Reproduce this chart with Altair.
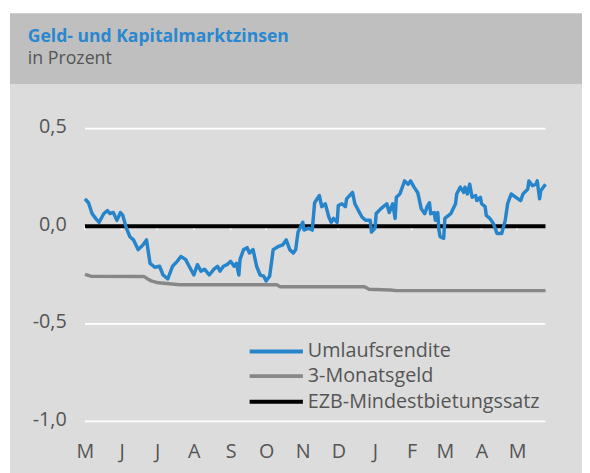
import altair as alt
import pandas as pd

# ---------------- data ----------------
start = pd.Timestamp("2016-05-01")

umlauf_days = [0, 3, 6, 9, 12, 16, 19, 21, 24, 27, 30, 32, 35, 38, 41, 45, 49, 52, 55, 59,
               63, 66, 70, 74, 78, 81, 85, 88, 92, 95, 98, 101, 105, 109, 112, 114, 117, 120, 123, 126,
               128, 130, 131, 134, 137, 139, 142, 145, 148, 151, 153, 156, 159, 163, 167, 170, 173, 176, 178, 180,
               184, 185, 189, 192, 194, 198, 200, 203, 206, 208, 210, 213, 214, 217, 220, 221, 226, 228, 231, 234,
               237, 241, 242, 245, 246, 250, 255, 257, 260, 262, 263, 266, 270, 273, 275, 278, 281, 282, 284, 287,
               289, 291, 292, 295, 296, 298, 299, 300, 303, 304, 309, 313, 314, 317, 320, 321, 323, 325, 327, 330,
               331, 334, 335, 338, 339, 342, 345, 348, 352, 355, 357, 360, 364, 368, 370, 374, 375, 378, 381, 382,
               384, 385, 389]
umlauf_vals = [0.14, 0.12, 0.065, 0.04, 0.02, 0.065, 0.08, 0.065, 0.07, 0.03, 0.07, 0.055, -0.01, -0.054, -0.07, -0.12, -0.096, -0.07, -0.19, -0.21,
               -0.205, -0.25, -0.27, -0.205, -0.18, -0.155, -0.17, -0.205, -0.25, -0.197, -0.23, -0.22, -0.25, -0.22, -0.205, -0.23, -0.205, -0.197, -0.18, -0.205,
               -0.19, -0.25, -0.17, -0.12, -0.11, -0.137, -0.12, -0.205, -0.25, -0.256, -0.28, -0.256, -0.12, -0.105, -0.096, -0.07, -0.12, -0.137, -0.12, -0.03,
               0.02, -0.02, -0.01, -0.02, 0.12, 0.157, 0.1, 0.115, 0.047, 0.02, 0.04, 0.02, 0.106, 0.115, 0.1, 0.14, 0.173, 0.115, 0.08, 0.047,
               0.03, 0.03, -0.03, -0.01, 0.065, 0.09, 0.115, 0.07, 0.115, 0.04, 0.148, 0.165, 0.232, 0.215, 0.232, 0.2, 0.173, 0.148, 0.09, 0.064,
               0.1, 0.12, 0.064, 0.07, 0.03, 0.07, -0.02, -0.054, -0.062, 0.04, 0.064, 0.115, 0.165, 0.2, 0.173, 0.2, 0.165, 0.215, 0.148, 0.157,
               0.131, 0.148, 0.115, 0.1, 0.055, 0.04, 0.014, -0.037, -0.037, 0.03, 0.115, 0.165, 0.148, 0.131, 0.165, 0.19, 0.232, 0.207, 0.215, 0.232,
               0.14, 0.182, 0.215]

geld_days = [0, 5, 50, 53, 56, 62, 80, 162, 165, 236, 240, 258, 263, 389]
geld_vals = [-0.247, -0.256, -0.258, -0.27, -0.28, -0.29, -0.30, -0.30, -0.31, -0.31, -0.323, -0.327, -0.33, -0.33]

ezb_days = [0, 389]
ezb_vals = [0.0, 0.0]

series_names = ["Umlaufsrendite", "3-Monatsgeld", "EZB-Mindestbietungssatz"]
series_colors = ["#2584ca", "#878787", "#000000"]

month_letters = ["J", "F", "M", "A", "M", "J", "J", "A", "S", "O", "N", "D"]
month_ticks = [str(d.date()) for d in pd.date_range("2016-05-01", "2017-05-01", freq="MS")]
y_ticks = [-1.0, -0.5, 0.0, 0.5]

title_text = "Geld- und Kapitalmarktzinsen"
subtitle_text = "in Prozent"

# ---------------- tables ----------------
def frame(days, vals, name):
    return pd.DataFrame({"date": [str((start + pd.Timedelta(days=d)).date()) for d in days],
                         "value": vals, "series": name})

df_u = frame(umlauf_days, umlauf_vals, series_names[0])
df_g = frame(geld_days, geld_vals, series_names[1])
df_e = frame(ezb_days, ezb_vals, series_names[2])
df_ticks = pd.DataFrame({"date": month_ticks, "value": 0.0, "y1": -0.02})
df_grid = pd.DataFrame({"value": y_ticks})

FONT = "Open Sans"
TXT = "#555555"
FS = 20

x_scale = alt.Scale(domain=["2016-05-01", "2017-05-25"])
y_scale = alt.Scale(domain=[-1.0, 0.5], nice=False, zero=False)

letters_js = "[" + ",".join("'%s'" % m for m in month_letters) + "]"

x_axis = alt.Axis(values=[alt.DateTime(year=int(m[:4]), month=int(m[5:7]), date=1) for m in month_ticks],
                  labelExpr=letters_js + "[month(datum.value)]",
                  domain=False, ticks=False, grid=False, title=None, zindex=1,
                  labelFontSize=FS, labelColor=TXT, labelFont=FONT, labelPadding=21,
                  labelAlign="center", labelFlush=False, labelOverlap=False)
y_axis = alt.Axis(values=y_ticks,
                  labelExpr="replace(replace(format(datum.value, '.1f'), '.', ','), '\u2212', '-')",
                  domain=False, ticks=False, grid=False, zindex=1, labelOverlap=False,
                  title=None, labelFontSize=FS, labelColor=TXT, labelFont=FONT, labelPadding=19,
                  labelOffset=-2)

X = lambda f="date": alt.X(f + ":T", scale=x_scale, axis=x_axis)
Y = lambda f="value": alt.Y(f + ":Q", scale=y_scale, axis=y_axis)

one = pd.DataFrame({"a": [0]})

# backgrounds (plot-relative pixel positions)
bg_light = alt.Chart(one).mark_rect(color="#dcdcdc").encode(
    x=alt.value(-76), x2=alt.value(510), y=alt.value(-45), y2=alt.value(360))
bg_dark = alt.Chart(one).mark_rect(color="#bfbfbf").encode(
    x=alt.value(-76), x2=alt.value(510), y=alt.value(-117), y2=alt.value(-45))
t1 = alt.Chart(pd.DataFrame({"t": [title_text]})).mark_text(
    align="left", baseline="alphabetic", font=FONT, fontSize=17.8, fontWeight="bold", color="#2a88d0"
).encode(x=alt.value(-58), y=alt.value(-88), text="t:N")
t2 = alt.Chart(pd.DataFrame({"t": [subtitle_text]})).mark_text(
    align="left", baseline="alphabetic", font=FONT, fontSize=18, color=TXT
).encode(x=alt.value(-58), y=alt.value(-65), text="t:N")

grid = alt.Chart(df_grid).mark_rule(color="white", strokeWidth=1.8).encode(y=Y())

ticks = alt.Chart(df_ticks).mark_rule(color="white", strokeWidth=2).encode(
    x=X(), y=Y(), y2="y1:Q")

def line(df, color, w):
    return alt.Chart(df).mark_line(color=color, strokeWidth=w, strokeJoin="round").encode(
        x=X(), y=Y())

l_e = line(df_e, series_colors[2], 4)
l_g = line(df_g, series_colors[1], 3.5)
l_u = line(df_u, series_colors[0], 3.5)

legend_layers = []
row_y = [226, 251, 277]
for i, (name, col) in enumerate(zip(series_names, series_colors)):
    legend_layers.append(alt.Chart(one).mark_rule(strokeWidth=4, color=col).encode(
        x=alt.value(167), x2=alt.value(221), y=alt.value(row_y[i])))
    legend_layers.append(alt.Chart(pd.DataFrame({"t": [name]})).mark_text(
        align="left", baseline="middle", font=FONT, fontSize=FS, color=TXT).encode(
        x=alt.value(226), y=alt.value(row_y[i]), text="t:N"))

chart = alt.layer(bg_light, bg_dark, t1, t2, grid, ticks, l_e, l_g, l_u, *legend_layers).properties(
    width=467, height=297,
    autosize=alt.AutoSizeParams(type="none"),
    padding={"left": 78, "top": 119, "right": 37, "bottom": 49},
    background="white",
).configure_view(stroke=None).configure_axis(labelOverlap=False)

chart.save("out.html", embed_options={"renderer": "svg", "actions": False})
